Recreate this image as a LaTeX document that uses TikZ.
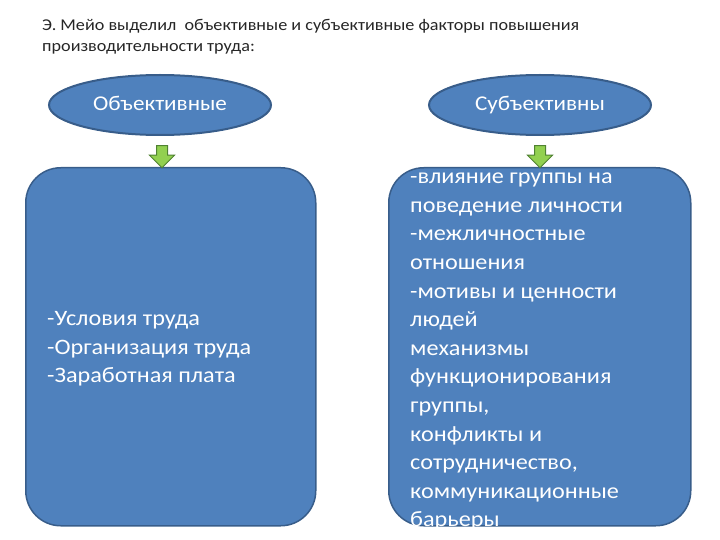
\documentclass[tikz,border=0pt]{standalone}
\usepackage{fontspec}
\setmainfont{Carlito}[FakeStretch=1.1]
\usetikzlibrary{shapes, arrows.meta, positioning}

\definecolor{boxblue}{RGB}{79,129,189}
\definecolor{boxedge}{RGB}{56,93,138}
\definecolor{arrowgreen}{RGB}{146,208,80}
\definecolor{arrowedge}{RGB}{80,130,50}

\begin{document}
\begin{tikzpicture}[x=1pt, y=-1pt,
    factor/.style={ellipse, fill=boxblue, draw=boxedge, line width=2pt, minimum width=222pt, minimum height=60pt, text=white, text height=14pt, text depth=3pt, font=\fontsize{21}{25}\selectfont},
    listbox/.style={rectangle, rounded corners=35pt, fill=boxblue, draw=boxedge, line width=1.5pt, anchor=north west},
    listtext/.style={text=white, align=left, anchor=west, inner sep=0pt, font=\fontsize{22}{28.6}\selectfont},
    downarrow/.style={single arrow, shape border rotate=270, fill=arrowgreen, draw=arrowedge, line width=1pt, inner sep=5pt, minimum height=22pt, single arrow head extend=7pt, single arrow head indent=0pt}]
    \useasboundingbox (0,0) rectangle (720,540);

    \node[anchor=north west, align=left, inner sep=0pt, text=black!85, font=\fontsize{16.5}{21}\selectfont] (title) at (42,19)
        {Э. Мейо выделил\ \ объективные и субъективные факторы повышения\\производительности труда:};

    \node[factor] (obj) at (160,105) {Объективные};
    \node[factor] (subj) at (540,105) {Субъективны};

    \node[listbox, minimum width=290pt, minimum height=358pt] (objBox) at (25,167) {};
    \node[listbox, minimum width=302pt, minimum height=358pt] (subjBox) at (388,167) {};

    \node[downarrow] (objArrow) at (162,154) {};
    \node[downarrow] (subjArrow) at (540,154) {};

    \node[listtext] (objText) at ([xshift=22pt, yshift=-2pt]objBox.west)
        {-Условия труда\\-Организация труда\\-Заработная плата};
    \node[listtext] (subjText) at ([xshift=22pt, yshift=-5pt]subjBox.west)
        {-влияние группы на\\поведение личности\\-межличностные\\отношения\\-мотивы и ценности\\людей\\механизмы\\функционирования\\группы,\\конфликты и\\сотрудничество,\\коммуникационные\\барьеры};
\end{tikzpicture}
\end{document}
